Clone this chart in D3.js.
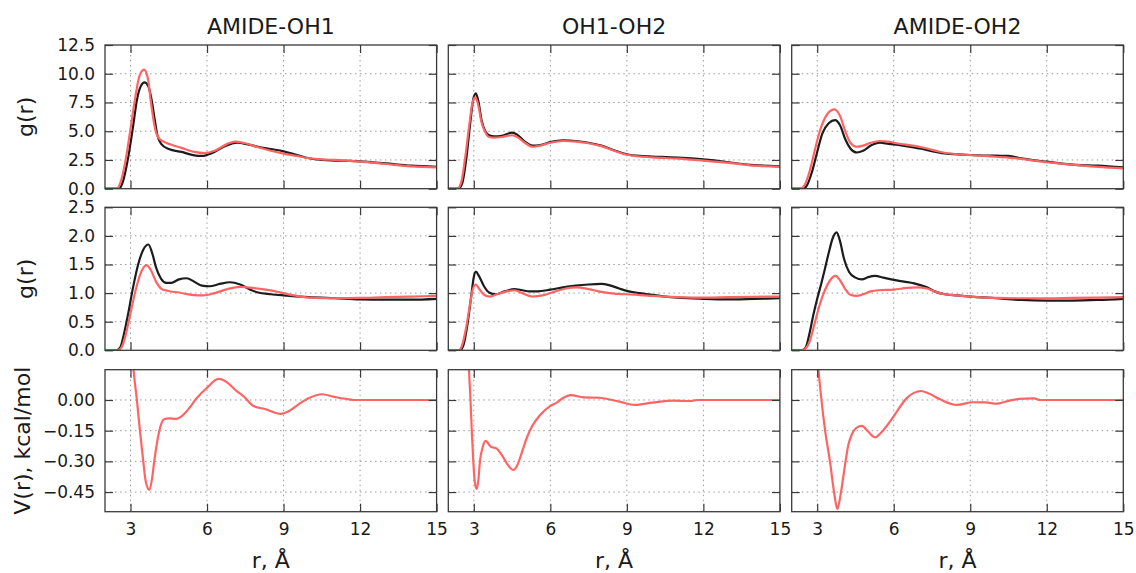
<!DOCTYPE html>
<html>
<head>
<meta charset="utf-8">
<script src="https://cdn.jsdelivr.net/npm/d3@7"></script>
<style>
  body { margin: 0; background: #fff; }
  svg { font-family: "DejaVu Sans", sans-serif; }
</style>
</head>
<body>
<svg id="chart" width="1136" height="573"></svg>
<script>
// ---- data ----
const titles = ["AMIDE-OH1", "OH1-OH2", "AMIDE-OH2"]
const rTicks = [3, 6, 9, 12, 15]
const gTopTicks = [0, 2.5, 5, 7.5, 10, 12.5]
const gMidTicks = [0, 0.5, 1, 1.5, 2, 2.5]
const vTicks = [0, -0.15, -0.30, -0.45]

// top row g(r)
const amideOh1TopBlack = [[2,0],[2.55,0],[2.7,0.6],[2.9,2.6],[3.1,5.4],[3.25,7.7],[3.4,8.9],[3.55,9.25],[3.7,8.9],[3.83,7.7],[3.95,6.0],[4.05,4.7],[4.2,3.9],[4.5,3.45],[5.0,3.2],[5.5,2.9],[5.8,2.85],[6.2,3.1],[6.7,3.7],[7.2,4.0],[7.6,3.85],[8.0,3.65],[8.5,3.45],[9.0,3.25],[9.5,2.95],[10.0,2.65],[10.5,2.5],[11.0,2.45],[11.5,2.42],[12.0,2.38],[13.0,2.2],[14.0,2.0],[15.0,1.9]]
const amideOh1TopRed = [[2,0],[2.45,0],[2.6,0.5],[2.8,2.4],[3.0,5.2],[3.17,7.7],[3.35,9.8],[3.53,10.35],[3.68,9.6],[3.79,7.7],[3.9,6.0],[4.0,4.9],[4.15,4.3],[4.4,4.0],[5.0,3.55],[5.5,3.2],[5.9,3.1],[6.3,3.3],[6.8,3.9],[7.1,4.1],[7.5,3.95],[8.0,3.6],[8.5,3.3],[9.0,3.05],[9.5,2.85],[10.0,2.65],[10.5,2.55],[11.0,2.5],[12.0,2.35],[13.0,2.15],[14.0,1.95],[15.0,1.85]]
const oh1Oh2TopBlack = [[2,0],[2.4,0],[2.55,0.5],[2.7,2.5],[2.85,5.5],[2.98,7.8],[3.08,8.3],[3.18,7.6],[3.3,6.0],[3.45,5.0],[3.6,4.65],[3.8,4.55],[4.1,4.6],[4.5,4.87],[4.7,4.7],[5.0,4.1],[5.3,3.75],[5.6,3.8],[6.0,4.05],[6.5,4.2],[7.0,4.15],[7.5,4.0],[8.0,3.75],[8.5,3.35],[9.0,3.0],[9.5,2.85],[10.0,2.8],[11.0,2.7],[12.0,2.55],[12.5,2.45],[13.0,2.3],[14.0,2.05],[15.0,1.95]]
const oh1Oh2TopRed = [[2,0],[2.35,0],[2.5,0.5],[2.65,2.5],[2.82,5.5],[2.96,7.6],[3.06,7.95],[3.16,7.4],[3.3,5.8],[3.45,4.9],[3.6,4.5],[3.8,4.45],[4.1,4.5],[4.5,4.65],[4.7,4.5],[5.0,4.0],[5.3,3.65],[5.6,3.75],[6.0,4.0],[6.5,4.15],[7.0,4.1],[7.5,3.95],[8.0,3.7],[8.5,3.3],[9.0,2.95],[9.5,2.8],[10.0,2.72],[11.0,2.62],[12.0,2.45],[13.0,2.25],[14.0,2.0],[15.0,1.9]]
const amideOh2TopBlack = [[2,0],[2.45,0],[2.6,0.3],[2.8,1.5],[3.0,3.2],[3.2,4.8],[3.45,5.7],[3.7,5.97],[3.9,5.5],[4.1,4.3],[4.3,3.5],[4.55,3.15],[4.8,3.3],[5.1,3.75],[5.46,4.0],[5.8,3.9],[6.0,3.85],[7.0,3.5],[8.0,3.07],[9.0,2.93],[10.0,2.87],[10.5,2.85],[11.0,2.64],[12.0,2.35],[13.0,2.1],[14.0,2.0],[15.0,1.85]]
const amideOh2TopRed = [[2,0],[2.35,0],[2.5,0.3],[2.7,1.5],[2.9,3.3],[3.1,5.0],[3.4,6.5],[3.68,6.9],[3.9,6.3],[4.1,5.0],[4.3,4.0],[4.55,3.65],[4.8,3.75],[5.1,4.0],[5.46,4.15],[5.8,4.1],[6.0,4.0],[7.0,3.65],[8.0,3.13],[9.0,2.93],[10.0,2.78],[11.0,2.6],[12.0,2.3],[13.0,2.1],[14.0,1.9],[15.0,1.77]]

// middle row g(r)
const amideOh1MidBlack = [[2,0],[2.45,0],[2.6,0.05],[2.75,0.3],[2.9,0.62],[3.1,1.1],[3.3,1.5],[3.5,1.76],[3.7,1.85],[3.85,1.7],[4.0,1.45],[4.2,1.25],[4.4,1.18],[4.6,1.18],[4.9,1.24],[5.2,1.26],[5.5,1.2],[5.8,1.13],[6.1,1.12],[6.5,1.16],[6.9,1.19],[7.3,1.15],[7.7,1.06],[8.0,1.01],[8.5,0.98],[9.0,0.96],[10.0,0.93],[11.0,0.91],[12.0,0.89],[13.0,0.885],[14.0,0.885],[15.0,0.9]]
const amideOh1MidRed = [[2,0],[2.5,0],[2.65,0.05],[2.8,0.25],[3.0,0.65],[3.2,1.05],[3.4,1.35],[3.63,1.49],[3.8,1.4],[4.0,1.2],[4.2,1.08],[4.45,1.04],[4.9,1.01],[5.4,0.97],[5.85,0.96],[6.3,1.0],[6.8,1.07],[7.3,1.11],[7.8,1.09],[8.3,1.06],[8.8,1.02],[9.3,0.97],[10.0,0.92],[11.0,0.91],[12.0,0.915],[13.0,0.93],[14.0,0.94],[15.0,0.95]]
const oh1Oh2MidBlack = [[2,0],[2.45,0],[2.6,0.1],[2.75,0.45],[2.9,0.95],[3.0,1.28],[3.08,1.375],[3.2,1.3],[3.4,1.12],[3.6,1.01],[3.85,0.98],[4.2,1.03],[4.6,1.07],[4.9,1.05],[5.2,1.03],[5.5,1.03],[6.0,1.06],[6.5,1.1],[7.0,1.13],[7.5,1.15],[8.0,1.16],[8.3,1.14],[8.7,1.08],[9.0,1.04],[9.5,1.0],[10.0,0.97],[10.5,0.94],[11.0,0.92],[12.0,0.9],[13.0,0.89],[14.0,0.9],[15.0,0.91]]
const oh1Oh2MidRed = [[2,0],[2.4,0],[2.55,0.1],[2.7,0.4],[2.85,0.8],[2.95,1.05],[3.08,1.15],[3.2,1.08],[3.4,0.97],[3.63,0.94],[3.9,0.98],[4.3,1.03],[4.6,1.05],[4.9,1.0],[5.3,0.94],[5.7,0.96],[6.2,1.03],[6.6,1.08],[7.0,1.1],[7.5,1.07],[8.0,1.02],[8.5,0.99],[9.0,0.98],[10.0,0.95],[11.0,0.93],[12.0,0.92],[13.0,0.93],[14.0,0.935],[15.0,0.94]]
const amideOh2MidBlack = [[2,0],[2.4,0],[2.55,0.05],[2.7,0.3],[2.85,0.62],[3.0,0.9],[3.15,1.15],[3.3,1.42],[3.45,1.7],[3.6,1.95],[3.76,2.06],[3.9,1.9],[4.05,1.6],[4.25,1.37],[4.5,1.27],[4.75,1.24],[5.0,1.28],[5.27,1.3],[5.6,1.27],[6.0,1.23],[6.4,1.2],[6.8,1.17],[7.3,1.1],[7.6,1.03],[8.0,0.98],[8.5,0.96],[9.0,0.94],[10.0,0.91],[11.0,0.88],[12.0,0.87],[13.0,0.87],[14.0,0.88],[15.0,0.9]]
const amideOh2MidRed = [[2,0],[2.35,0],[2.5,0.02],[2.7,0.15],[2.9,0.47],[3.1,0.8],[3.3,1.05],[3.5,1.22],[3.71,1.3],[3.9,1.22],[4.1,1.07],[4.3,0.97],[4.55,0.95],[4.8,0.98],[5.1,1.03],[5.4,1.05],[6.0,1.06],[6.5,1.09],[6.9,1.1],[7.3,1.08],[7.6,1.03],[8.0,0.98],[8.5,0.96],[9.0,0.94],[10.0,0.915],[11.0,0.91],[12.0,0.91],[13.0,0.915],[14.0,0.92],[15.0,0.93]]

// bottom row V(r), kcal/mol
const amideOh1V = [[2.9,0.6],[3.0,0.4],[3.12,0.15],[3.25,0.0],[3.37,-0.15],[3.5,-0.3],[3.6,-0.4],[3.74,-0.44],[3.85,-0.38],[3.93,-0.3],[4.13,-0.15],[4.3,-0.095],[4.5,-0.09],[4.8,-0.092],[5.0,-0.08],[5.3,-0.04],[5.6,0.01],[6.0,0.06],[6.45,0.103],[6.8,0.085],[7.1,0.05],[7.5,0.01],[7.8,-0.028],[8.3,-0.045],[8.9,-0.068],[9.2,-0.055],[9.6,-0.02],[10.0,0.01],[10.5,0.028],[11.0,0.015],[11.5,0.004],[11.8,0],[15,0]]
const oh1Oh2V = [[2.7,0.6],[2.81,0.15],[2.87,0],[2.92,-0.15],[2.98,-0.3],[3.04,-0.4],[3.11,-0.435],[3.18,-0.39],[3.24,-0.3],[3.35,-0.23],[3.46,-0.2],[3.52,-0.205],[3.66,-0.228],[3.9,-0.238],[4.1,-0.27],[4.35,-0.32],[4.55,-0.342],[4.7,-0.32],[4.9,-0.25],[5.07,-0.187],[5.3,-0.125],[5.6,-0.073],[5.99,-0.03],[6.25,-0.013],[6.5,0.01],[6.8,0.024],[7.3,0.013],[7.9,0.011],[8.7,-0.008],[9.3,-0.024],[10.0,-0.013],[10.8,-0.003],[11.5,-0.005],[11.75,0],[15,0]]
const amideOh2V = [[2.9,0.5],[3.05,0.15],[3.15,0.02],[3.31,-0.15],[3.5,-0.3],[3.66,-0.45],[3.79,-0.533],[3.92,-0.46],[4.09,-0.318],[4.22,-0.22],[4.35,-0.171],[4.55,-0.135],[4.75,-0.127],[5.0,-0.155],[5.27,-0.183],[5.5,-0.16],[5.99,-0.081],[6.5,0.008],[7.07,0.044],[7.4,0.03],[7.82,0.003],[8.47,-0.024],[9.1,-0.011],[9.6,-0.012],[10.05,-0.018],[10.5,-0.004],[10.9,0.005],[11.5,0.008],[11.75,0],[15,0]]

// ---- layout ----
const svg = d3.select("#chart")
const colLeft = [105, 448.3, 791.7]
const panelW = 331.6
const rowTop = [45, 207.3, 369.7]
const rowH = [143.7, 143, 142]
const BLACK = "#1c1c1c", RED = "#ff6464", FRAME = "#3a3a3a"

const rows = [
  { domain: [0, 12.5], ticks: gTopTicks, fmt: d3.format(".1f"), label: "g(r)", labelX: 33,
    series: [[amideOh1TopBlack, amideOh1TopRed], [oh1Oh2TopBlack, oh1Oh2TopRed], [amideOh2TopBlack, amideOh2TopRed]] },
  { domain: [0, 2.5], ticks: gMidTicks, fmt: d3.format(".1f"), label: "g(r)", labelX: 33,
    series: [[amideOh1MidBlack, amideOh1MidRed], [oh1Oh2MidBlack, oh1Oh2MidRed], [amideOh2MidBlack, amideOh2MidRed]] },
  { domain: [-0.546, 0.148], ticks: vTicks, fmt: d3.format(".2f"), label: "V(r), kcal/mol", labelX: 29.5,
    series: [[amideOh1V], [oh1Oh2V], [amideOh2V]] }
]

const x = d3.scaleLinear().domain([2, 15]).range([0, panelW])

rows.forEach((row, ri) => {
  const h = rowH[ri]
  const y = d3.scaleLinear().domain(row.domain).range([h, 0])
  const line = d3.line()
                .x(d => x(d[0]))
                .y(d => y(d[1]))
                .curve(d3.curveMonotoneX)

  row.series.forEach((lines, ci) => {
    const g = svg.append("g")
                 .attr("transform", `translate(${colLeft[ci]},${rowTop[ri]})`)
    const clipId = `clip-${ri}-${ci}`
    g.append("clipPath").attr("id", clipId)
      .append("rect").attr("width", panelW).attr("height", h)

    // dotted grid
    const grid = g.append("g")
                  .attr("stroke", "#9a9a9a")
                  .attr("stroke-width", 1)
                  .attr("stroke-dasharray", "1.5,3.5")
    grid.selectAll("line.gx").data(rTicks.filter(t => t < 15))
      .join("line").attr("class", "gx")
      .attr("x1", d => x(d)).attr("x2", d => x(d))
      .attr("y1", 0).attr("y2", h)
    grid.selectAll("line.gy").data(row.ticks.filter(t => t > row.domain[0] && t < row.domain[1]))
      .join("line").attr("class", "gy")
      .attr("x1", 0).attr("x2", panelW)
      .attr("y1", d => y(d)).attr("y2", d => y(d))

    // curves: black first, red on top
    lines.forEach((data, li) => {
      const col = lines.length == 1 ? RED : (li == 0 ? BLACK : RED)
      g.append("path")
        .datum(data)
        .attr("clip-path", `url(#${clipId})`)
        .attr("fill", "none")
        .attr("stroke", col)
        .attr("stroke-width", 2.2)
        .attr("stroke-linejoin", "round")
        .attr("d", line)
    })

    // inward ticks on all four sides
    const tk = 8
    const left = g.append("g")
      .call(d3.axisLeft(y).tickValues(row.ticks).tickSize(-tk).tickPadding(10)
              .tickFormat(ci == 0 ? (d => row.fmt(d).replace("-", "\u2212")) : ""))
    const right = g.append("g").attr("transform", `translate(${panelW},0)`)
      .call(d3.axisRight(y).tickValues(row.ticks).tickSize(-tk).tickFormat(""))
    const top = g.append("g")
      .call(d3.axisTop(x).tickValues(rTicks).tickSize(-tk).tickFormat(""))
    const bottom = g.append("g").attr("transform", `translate(0,${h})`)
      .call(d3.axisBottom(x).tickValues(rTicks).tickSize(-tk).tickPadding(11.5)
              .tickFormat(ri == 2 ? d3.format("d") : ""))
    ;[left, right, top, bottom].forEach(a => {
      a.select(".domain").remove()
      a.selectAll(".tick line").attr("stroke", FRAME).attr("stroke-width", 1.2)
      a.selectAll("text").attr("font-size", 17).attr("font-family", "DejaVu Sans").attr("fill", "#1a1a1a")
    })

    // frame
    g.append("rect")
      .attr("width", panelW).attr("height", h)
      .attr("fill", "none")
      .attr("stroke", FRAME)
      .attr("stroke-width", 1.3)

    if (ri == 0) {
      g.append("text")
        .attr("x", panelW / 2).attr("y", -10.7)
        .attr("text-anchor", "middle")
        .attr("font-size", 22).attr("fill", "#1a1a1a")
        .text(titles[ci])
    }
    if (ri == 2) {
      g.append("text")
        .attr("x", panelW / 2).attr("y", h + 56.5)
        .attr("text-anchor", "middle")
        .attr("font-size", 22).attr("fill", "#1a1a1a")
        .text("r, \u00c5")
    }
  })

  // row label
  svg.append("text")
    .attr("transform", `translate(${row.labelX},${rowTop[ri] + h / 2}) rotate(-90)`)
    .attr("text-anchor", "middle")
    .attr("font-size", 22).attr("fill", "#1a1a1a")
    .text(row.label)
})
</script>
</body>
</html>
